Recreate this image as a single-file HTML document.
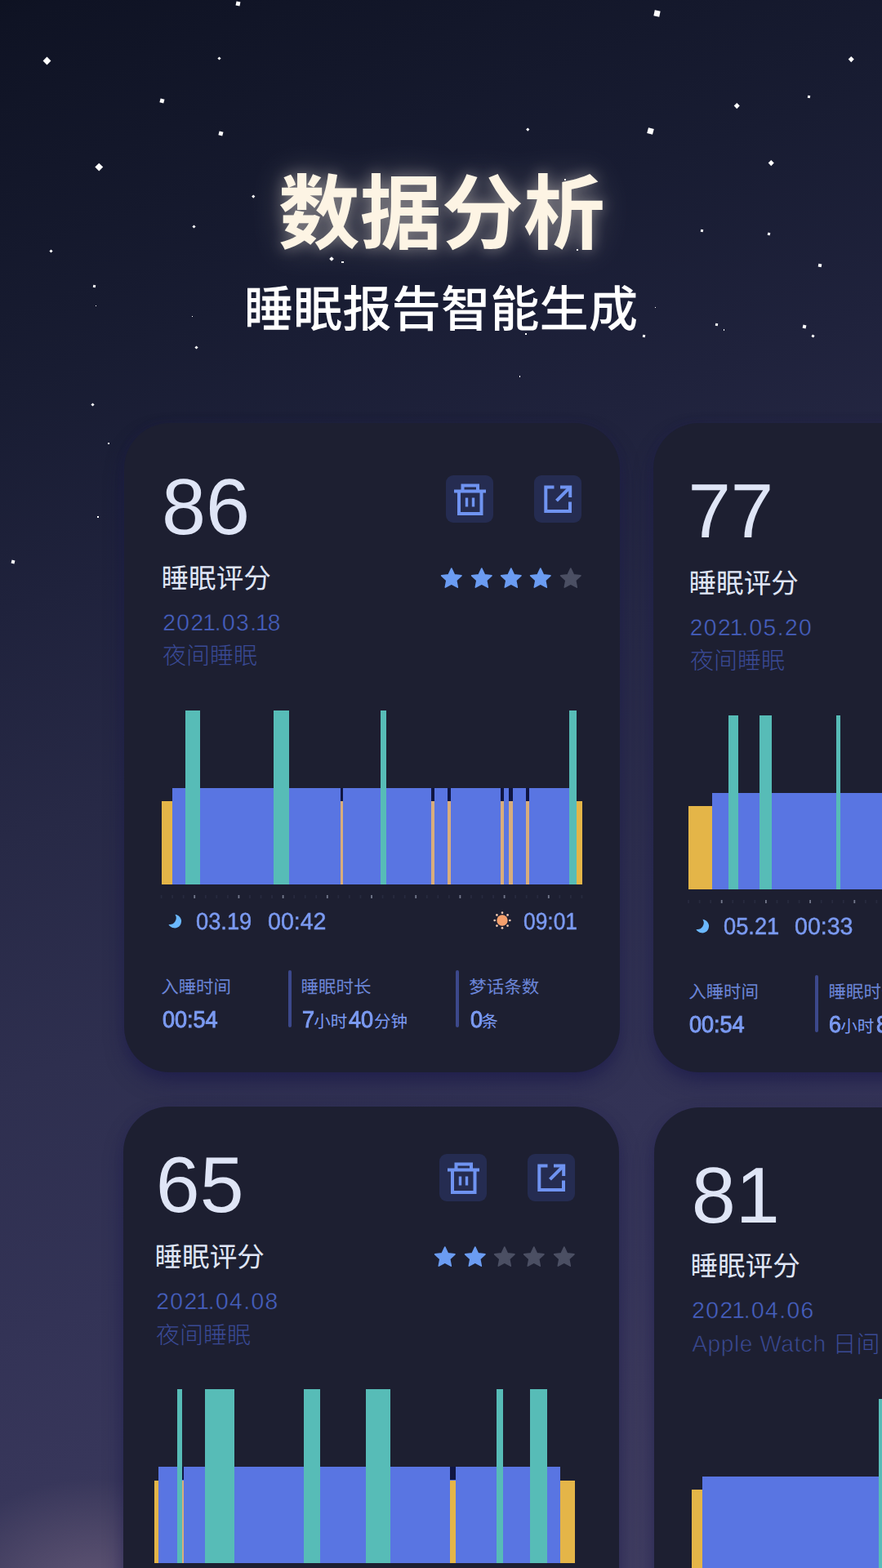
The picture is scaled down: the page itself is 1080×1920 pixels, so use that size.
<!DOCTYPE html>
<html lang="zh-CN"><head><meta charset="utf-8"><title>数据分析 - 睡眠报告智能生成</title><meta name="viewport" content="width=1080"><style>
html,body{margin:0;padding:0;background:#14172b}
body{width:1080px;height:1920px;overflow:hidden;font-family:"Liberation Sans",sans-serif}
#page{position:relative;width:1080px;height:1920px;overflow:hidden;
 background:linear-gradient(161deg,#0e1222 0px,#0f1324 26px,#13172a 215px,#181c32 451px,#1f223c 707px,#272946 971px,#2e2f4f 1255px,#333356 1548px,#37365a 1728px,#3b395c 1841px,#423f63 2167px)}
#glow{position:absolute;left:-75px;top:1810px;width:380px;height:300px;background:radial-gradient(closest-side,rgba(114,99,128,.72),rgba(114,99,128,0));}
.s{position:absolute;display:block;background:#fff}
.ab{position:absolute;display:block;overflow:visible}
.r{position:absolute}
.card{position:absolute;background:#1d1f31;border-radius:56px;box-shadow:0 13px 26px -4px rgba(24,22,72,.68),0 0 12px rgba(40,36,100,.14)}
.cj{position:absolute}
.cj svg{position:absolute;left:0;top:0;display:block;overflow:visible}
.cj text{font-family:"Liberation Sans","Noto Sans CJK SC",sans-serif;text-rendering:geometricPrecision}
.title svg{filter:drop-shadow(0 0 9px rgba(255,246,232,.4)) drop-shadow(0 0 20px rgba(255,246,232,.22))}
.tx{position:absolute;white-space:nowrap;line-height:1;transform-origin:0 50%;text-rendering:geometricPrecision}
.btn{position:absolute;width:58px;height:58px;border-radius:9px;background:#252c51}
.btn svg{display:block}
.n1{margin:0 -2.35px}
</style></head><body>
<div id="page">
<div id="glow"></div>
<i class="s" style="left:53.50px;top:71.00px;width:7px;height:7px;transform:rotate(45deg)"></i>
<i class="s" style="left:289.00px;top:1.50px;width:5px;height:5px;transform:rotate(12deg)"></i>
<i class="s" style="left:267.00px;top:69.50px;width:3px;height:3px;transform:rotate(45deg)"></i>
<i class="s" style="left:195.75px;top:120.75px;width:4.5px;height:4.5px;transform:rotate(15deg)"></i>
<i class="s" style="left:267.75px;top:160.75px;width:4.5px;height:4.5px;transform:rotate(15deg)"></i>
<i class="s" style="left:118.25px;top:200.75px;width:6.5px;height:6.5px;transform:rotate(45deg)"></i>
<i class="s" style="left:309.25px;top:238.75px;width:2.5px;height:2.5px;transform:rotate(45deg)"></i>
<i class="s" style="left:236.00px;top:276.00px;width:3px;height:3px;transform:rotate(45deg)"></i>
<i class="s" style="left:60.50px;top:305.50px;width:3px;height:3px;transform:rotate(45deg)"></i>
<i class="s" style="left:403.50px;top:314.50px;width:4px;height:4px;transform:rotate(45deg)"></i>
<i class="s" style="left:418.25px;top:319.75px;width:2.5px;height:2.5px;transform:rotate(0deg)"></i>
<i class="s" style="left:113.50px;top:349.00px;width:3px;height:3px;transform:rotate(10deg)"></i>
<i class="s" style="left:116.75px;top:373.75px;width:1.5px;height:1.5px;transform:rotate(0deg)"></i>
<i class="s" style="left:234.75px;top:386.75px;width:1.5px;height:1.5px;transform:rotate(0deg)"></i>
<i class="s" style="left:239.00px;top:424.00px;width:3px;height:3px;transform:rotate(45deg)"></i>
<i class="s" style="left:801.00px;top:12.50px;width:7px;height:7px;transform:rotate(12deg)"></i>
<i class="s" style="left:1040.25px;top:70.25px;width:4.5px;height:4.5px;transform:rotate(45deg)"></i>
<i class="s" style="left:899.75px;top:126.75px;width:4.5px;height:4.5px;transform:rotate(45deg)"></i>
<i class="s" style="left:988.50px;top:117.00px;width:3px;height:3px;transform:rotate(10deg)"></i>
<i class="s" style="left:644.75px;top:156.75px;width:2.5px;height:2.5px;transform:rotate(45deg)"></i>
<i class="s" style="left:792.50px;top:156.50px;width:7px;height:7px;transform:rotate(15deg)"></i>
<i class="s" style="left:941.75px;top:196.75px;width:4.5px;height:4.5px;transform:rotate(45deg)"></i>
<i class="s" style="left:858.00px;top:280.50px;width:3px;height:3px;transform:rotate(10deg)"></i>
<i class="s" style="left:940.00px;top:284.50px;width:3px;height:3px;transform:rotate(20deg)"></i>
<i class="s" style="left:1001.50px;top:322.50px;width:4px;height:4px;transform:rotate(10deg)"></i>
<i class="s" style="left:801.90px;top:375.90px;width:1.2px;height:1.2px;transform:rotate(0deg)"></i>
<i class="s" style="left:875.50px;top:396.00px;width:3px;height:3px;transform:rotate(10deg)"></i>
<i class="s" style="left:885.75px;top:403.25px;width:1.5px;height:1.5px;transform:rotate(0deg)"></i>
<i class="s" style="left:786.50px;top:410.00px;width:3px;height:3px;transform:rotate(10deg)"></i>
<i class="s" style="left:983.00px;top:398.00px;width:4px;height:4px;transform:rotate(15deg)"></i>
<i class="s" style="left:993.50px;top:409.50px;width:3px;height:3px;transform:rotate(30deg)"></i>
<i class="s" style="left:635.75px;top:460.25px;width:1.5px;height:1.5px;transform:rotate(0deg)"></i>
<i class="s" style="left:642.50px;top:408.00px;width:2px;height:2px;transform:rotate(0deg)"></i>
<i class="s" style="left:705.50px;top:305.00px;width:2px;height:2px;transform:rotate(0deg)"></i>
<i class="s" style="left:690.50px;top:219.00px;width:2px;height:2px;transform:rotate(0deg)"></i>
<i class="s" style="left:111.50px;top:493.50px;width:3px;height:3px;transform:rotate(45deg)"></i>
<i class="s" style="left:132.25px;top:542.25px;width:1.5px;height:1.5px;transform:rotate(0deg)"></i>
<i class="s" style="left:119.25px;top:632.25px;width:1.5px;height:1.5px;transform:rotate(0deg)"></i>
<i class="s" style="left:14.00px;top:686.00px;width:4px;height:4px;transform:rotate(15deg)"></i>
<div class="cj title" style="left:341.30px;top:210.20px;width:398.70px;height:98.40px;"><svg width="398.70" height="98.40" viewBox="0.20 -87.00 398.70 98.40"><text x="0" y="0" font-size="100" font-weight="700" fill="#fdf4e4">数据分析</text></svg></div>
<div class="cj " style="left:300.50px;top:347.00px;width:479.95px;height:60.80px;"><svg width="479.95" height="60.80" viewBox="2.28 -53.19 479.95 60.80"><text x="0" y="0" font-size="60.3" font-weight="500" fill="#ffffff">睡眠报告智能生成</text></svg></div>
<div class="card" style="left:152px;top:517.5px;width:607.2px;height:795.0px"></div>
<div class="card" style="left:800px;top:517.5px;width:607px;height:795.5px"></div>
<div class="card" style="left:150.6px;top:1355px;width:607.9px;height:795px"></div>
<div class="card" style="left:800.5px;top:1355.5px;width:606.5px;height:794.5px"></div>
<div class="cj" style="left:199.30px;top:581.30px;width:110.50px;height:74.60px"><svg width="110.50" height="74.60" viewBox="199.30 581.30 110.50 74.60"><text x="198.3" y="653.9" font-size="97.1" fill="#dfe5f6">86</text></svg></div>
<div class="btn" style="left:545.50px;top:582.40px"><svg width="58" height="58" viewBox="0 0 58 58"><g fill="none" stroke="#6f93f1" stroke-width="4"><path d="M10 19.5H49"/><path d="M20.5 19V12.5H39V19"/><path d="M16 21V47H43.5V21"/><path d="M25.5 27.5V38.5M33.5 27.5V38.5" stroke-width="3.4"/></g></svg></div>
<div class="btn" style="left:654.40px;top:582.40px"><svg width="58" height="58" viewBox="0 0 58 58"><g fill="none" stroke="#6f93f1" stroke-width="4"><path d="M24.5 14.5H14.3V44H44V32.5"/><path d="M32 14.5H44.2V27"/><path d="M43.5 15.2L27.5 31.2"/></g></svg></div>
<svg class="ab" style="left:539.80px;top:695.70px" width="25.6" height="25.6"><polygon fill="#6b9cf2" stroke="#6b9cf2" stroke-width="1.6" stroke-linejoin="round" points="12.80,0.00 16.44,7.78 24.97,8.84 18.70,14.72 20.32,23.16 12.80,19.00 5.28,23.16 6.90,14.72 0.63,8.84 9.16,7.78"/></svg>
<svg class="ab" style="left:576.50px;top:695.70px" width="25.6" height="25.6"><polygon fill="#6b9cf2" stroke="#6b9cf2" stroke-width="1.6" stroke-linejoin="round" points="12.80,0.00 16.44,7.78 24.97,8.84 18.70,14.72 20.32,23.16 12.80,19.00 5.28,23.16 6.90,14.72 0.63,8.84 9.16,7.78"/></svg>
<svg class="ab" style="left:613.10px;top:695.70px" width="25.6" height="25.6"><polygon fill="#6b9cf2" stroke="#6b9cf2" stroke-width="1.6" stroke-linejoin="round" points="12.80,0.00 16.44,7.78 24.97,8.84 18.70,14.72 20.32,23.16 12.80,19.00 5.28,23.16 6.90,14.72 0.63,8.84 9.16,7.78"/></svg>
<svg class="ab" style="left:649.40px;top:695.70px" width="25.6" height="25.6"><polygon fill="#6b9cf2" stroke="#6b9cf2" stroke-width="1.6" stroke-linejoin="round" points="12.80,0.00 16.44,7.78 24.97,8.84 18.70,14.72 20.32,23.16 12.80,19.00 5.28,23.16 6.90,14.72 0.63,8.84 9.16,7.78"/></svg>
<svg class="ab" style="left:686.10px;top:695.70px" width="25.6" height="25.6"><polygon fill="#4b4f63" stroke="#4b4f63" stroke-width="1.6" stroke-linejoin="round" points="12.80,0.00 16.44,7.78 24.97,8.84 18.70,14.72 20.32,23.16 12.80,19.00 5.28,23.16 6.90,14.72 0.63,8.84 9.16,7.78"/></svg>
<div class="cj " style="left:198.40px;top:689.50px;width:134.57px;height:34.61px;"><svg width="134.57" height="34.61" viewBox="0.52 -29.82 134.57 34.61"><text x="0" y="0" font-size="33.6" fill="#dfe5f6">睡眠评分</text></svg></div>
<div class="tx" style="left:199.30px;top:747.82px;font-size:28.2px;color:#4761c3;letter-spacing:1.38px;-webkit-text-stroke:0.45px #1d1f31;">202<span class="n1">1</span>.03.<span class="n1">1</span>8</div>
<div class="cj " style="left:198.30px;top:787.20px;width:118.00px;height:30.59px;"><svg width="118.00" height="30.59" viewBox="-1.10 -26.33 118.00 30.59"><text x="0" y="0" font-size="29" font-weight="300" fill="#3a4a96">夜间睡眠</text></svg></div>
<div class="r" style="left:197.60px;top:980.90px;width:13.00px;height:102.40px;background:#e4b548;"></div>
<div class="r" style="left:210.60px;top:964.90px;width:486.50px;height:118.40px;background:#5975e2;"></div>
<div class="r" style="left:416.50px;top:964.90px;width:3.30px;height:16.00px;background:#101642;"></div>
<div class="r" style="left:416.50px;top:980.90px;width:3.30px;height:102.40px;background:#d8ad7c;"></div>
<div class="r" style="left:527.80px;top:964.90px;width:4.40px;height:16.00px;background:#101642;"></div>
<div class="r" style="left:527.80px;top:980.90px;width:4.40px;height:102.40px;background:#d8ad7c;"></div>
<div class="r" style="left:548.00px;top:964.90px;width:3.60px;height:16.00px;background:#101642;"></div>
<div class="r" style="left:548.00px;top:980.90px;width:3.60px;height:102.40px;background:#d8ad7c;"></div>
<div class="r" style="left:612.80px;top:964.90px;width:4.40px;height:16.00px;background:#101642;"></div>
<div class="r" style="left:612.80px;top:980.90px;width:4.40px;height:102.40px;background:#d8ad7c;"></div>
<div class="r" style="left:622.90px;top:964.90px;width:4.70px;height:16.00px;background:#101642;"></div>
<div class="r" style="left:622.90px;top:980.90px;width:4.70px;height:102.40px;background:#d8ad7c;"></div>
<div class="r" style="left:644.40px;top:964.90px;width:3.20px;height:16.00px;background:#101642;"></div>
<div class="r" style="left:644.40px;top:980.90px;width:3.20px;height:102.40px;background:#d8ad7c;"></div>
<div class="r" style="left:705.90px;top:980.90px;width:7.30px;height:102.40px;background:#e4b548;"></div>
<div class="r" style="left:227.20px;top:870.00px;width:17.60px;height:213.30px;background:#57bcb7;"></div>
<div class="r" style="left:334.80px;top:870.00px;width:18.90px;height:213.30px;background:#57bcb7;"></div>
<div class="r" style="left:466.10px;top:870.00px;width:6.70px;height:213.30px;background:#57bcb7;"></div>
<div class="r" style="left:697.10px;top:870.00px;width:8.80px;height:213.30px;background:#57bcb7;"></div>
<svg class="ab" style="left:0;top:0" width="1080" height="1920"><rect x="196.65" y="1096.00" width="1.8" height="4" fill="#272a3e"/><rect x="210.20" y="1096.00" width="1.8" height="4" fill="#272a3e"/><rect x="223.75" y="1096.00" width="1.8" height="4" fill="#272a3e"/><rect x="237.30" y="1096.00" width="1.8" height="4" fill="#73788c"/><rect x="250.85" y="1096.00" width="1.8" height="4" fill="#272a3e"/><rect x="264.40" y="1096.00" width="1.8" height="4" fill="#272a3e"/><rect x="277.95" y="1096.00" width="1.8" height="4" fill="#272a3e"/><rect x="291.50" y="1096.00" width="1.8" height="4" fill="#73788c"/><rect x="305.05" y="1096.00" width="1.8" height="4" fill="#272a3e"/><rect x="318.60" y="1096.00" width="1.8" height="4" fill="#272a3e"/><rect x="332.15" y="1096.00" width="1.8" height="4" fill="#272a3e"/><rect x="345.70" y="1096.00" width="1.8" height="4" fill="#73788c"/><rect x="359.25" y="1096.00" width="1.8" height="4" fill="#272a3e"/><rect x="372.80" y="1096.00" width="1.8" height="4" fill="#272a3e"/><rect x="386.35" y="1096.00" width="1.8" height="4" fill="#272a3e"/><rect x="399.90" y="1096.00" width="1.8" height="4" fill="#73788c"/><rect x="413.45" y="1096.00" width="1.8" height="4" fill="#272a3e"/><rect x="427.00" y="1096.00" width="1.8" height="4" fill="#272a3e"/><rect x="440.55" y="1096.00" width="1.8" height="4" fill="#272a3e"/><rect x="454.10" y="1096.00" width="1.8" height="4" fill="#73788c"/><rect x="467.65" y="1096.00" width="1.8" height="4" fill="#272a3e"/><rect x="481.20" y="1096.00" width="1.8" height="4" fill="#272a3e"/><rect x="494.75" y="1096.00" width="1.8" height="4" fill="#272a3e"/><rect x="508.30" y="1096.00" width="1.8" height="4" fill="#73788c"/><rect x="521.85" y="1096.00" width="1.8" height="4" fill="#272a3e"/><rect x="535.40" y="1096.00" width="1.8" height="4" fill="#272a3e"/><rect x="548.95" y="1096.00" width="1.8" height="4" fill="#272a3e"/><rect x="562.50" y="1096.00" width="1.8" height="4" fill="#73788c"/><rect x="576.05" y="1096.00" width="1.8" height="4" fill="#272a3e"/><rect x="589.60" y="1096.00" width="1.8" height="4" fill="#272a3e"/><rect x="603.15" y="1096.00" width="1.8" height="4" fill="#272a3e"/><rect x="616.70" y="1096.00" width="1.8" height="4" fill="#73788c"/><rect x="630.25" y="1096.00" width="1.8" height="4" fill="#272a3e"/><rect x="643.80" y="1096.00" width="1.8" height="4" fill="#272a3e"/><rect x="657.35" y="1096.00" width="1.8" height="4" fill="#272a3e"/><rect x="670.90" y="1096.00" width="1.8" height="4" fill="#73788c"/><rect x="684.45" y="1096.00" width="1.8" height="4" fill="#272a3e"/><rect x="698.00" y="1096.00" width="1.8" height="4" fill="#272a3e"/><rect x="711.55" y="1096.00" width="1.8" height="4" fill="#272a3e"/></svg>
<svg class="ab" style="left:203.40px;top:1116.20px" width="24" height="24" viewBox="-12 -12 24 24"><path fill="#6bb8ff" d="M-0.6 -8.2A8.3 8.3 0 1 1 -8.6 3.9A7.9 7.9 0 0 0 -0.6 -8.2Z"/></svg>
<div class="tx" style="left:240.00px;top:1115.05px;font-size:29px;color:#7b9af1;transform:scaleX(0.94);-webkit-text-stroke:0.5px #7b9af1;">03.19</div>
<div class="tx" style="left:327.60px;top:1115.05px;font-size:29px;color:#7b9af1;transform:scaleX(0.985);-webkit-text-stroke:0.5px #7b9af1;">00:42</div>
<svg class="ab" style="left:603.20px;top:1115.20px" width="24" height="24" viewBox="-12 -12 24 24"><circle r="6.7" fill="#f6a06c"/><circle cx="9.30" cy="0.00" r="1.35" fill="#f1c9b2"/><circle cx="6.58" cy="6.58" r="1.35" fill="#f1c9b2"/><circle cx="0.00" cy="9.30" r="1.35" fill="#f1c9b2"/><circle cx="-6.58" cy="6.58" r="1.35" fill="#f1c9b2"/><circle cx="-9.30" cy="0.00" r="1.35" fill="#f1c9b2"/><circle cx="-6.58" cy="-6.58" r="1.35" fill="#f1c9b2"/><circle cx="-0.00" cy="-9.30" r="1.35" fill="#f1c9b2"/><circle cx="6.58" cy="-6.58" r="1.35" fill="#f1c9b2"/></svg>
<div class="tx" style="left:640.50px;top:1115.05px;font-size:29px;color:#7b9af1;transform:scaleX(0.91);-webkit-text-stroke:0.5px #7b9af1;">09:01</div>
<div class="cj " style="left:196.30px;top:1195.50px;width:87.25px;height:23.67px;"><svg width="87.25" height="23.67" viewBox="-1.12 -19.95 87.25 23.67"><text x="0" y="0" font-size="21.5" fill="#6b85d7">入睡时间</text></svg></div>
<div class="tx" style="left:198.70px;top:1234.98px;font-size:28.6px;color:#7b9af1;transform:scaleX(0.945);-webkit-text-stroke:1px #7b9af1;">00:54</div>
<div class="r" style="left:352.50px;top:1187.50px;width:4.20px;height:70.00px;background:#3c488b;border-radius:2px;"></div>
<div class="cj " style="left:368.00px;top:1195.50px;width:87.68px;height:23.74px;"><svg width="87.68" height="23.74" viewBox="-0.39 -19.95 87.68 23.74"><text x="0" y="0" font-size="21.5" fill="#6b85d7">睡眠时长</text></svg></div>
<div class="tx" style="left:369.50px;top:1234.98px;font-size:28.6px;color:#7b9af1;transform:scaleX(0.945);-webkit-text-stroke:1px #7b9af1;">7</div>
<div class="cj " style="left:382.60px;top:1238.80px;width:43.57px;height:22.76px;"><svg width="43.57" height="22.76" viewBox="-1.34 -19.12 43.57 22.76"><text x="0" y="0" font-size="20.5" fill="#7b9af1">小时</text></svg></div>
<div class="tx" style="left:427.00px;top:1234.98px;font-size:28.6px;color:#7b9af1;transform:scaleX(0.945);-webkit-text-stroke:1px #7b9af1;">40</div>
<div class="cj " style="left:456.50px;top:1238.80px;width:42.81px;height:22.88px;"><svg width="42.81" height="22.88" viewBox="-1.10 -19.18 42.81 22.88"><text x="0" y="0" font-size="20.5" fill="#7b9af1">分钟</text></svg></div>
<div class="r" style="left:558.00px;top:1187.50px;width:3.70px;height:70.00px;background:#3c488b;border-radius:2px;"></div>
<div class="cj " style="left:573.00px;top:1195.50px;width:88.62px;height:23.93px;"><svg width="88.62" height="23.93" viewBox="-1.23 -20.10 88.62 23.93"><text x="0" y="0" font-size="21.5" fill="#6b85d7">梦话条数</text></svg></div>
<div class="tx" style="left:575.50px;top:1234.98px;font-size:28.6px;color:#7b9af1;transform:scaleX(0.945);-webkit-text-stroke:1px #7b9af1;">0</div>
<div class="cj " style="left:588.00px;top:1238.80px;width:23.04px;height:22.82px;"><svg width="23.04" height="22.82" viewBox="-1.28 -19.26 23.04 22.82"><text x="0" y="0" font-size="20.5" fill="#7b9af1">条</text></svg></div>
<div class="cj" style="left:844.10px;top:587.80px;width:101.80px;height:72.50px"><svg width="101.80" height="72.50" viewBox="844.10 587.80 101.80 72.50"><text x="842.5" y="658.3" font-size="94.2" fill="#dfe5f6">77</text></svg></div>
<div class="cj " style="left:843.90px;top:695.50px;width:134.57px;height:34.61px;"><svg width="134.57" height="34.61" viewBox="0.52 -29.82 134.57 34.61"><text x="0" y="0" font-size="33.6" fill="#dfe5f6">睡眠评分</text></svg></div>
<div class="tx" style="left:844.80px;top:753.82px;font-size:28.2px;color:#4761c3;letter-spacing:1.38px;-webkit-text-stroke:0.45px #1d1f31;">202<span class="n1">1</span>.05.20</div>
<div class="cj " style="left:843.80px;top:793.20px;width:118.00px;height:30.59px;"><svg width="118.00" height="30.59" viewBox="-1.10 -26.33 118.00 30.59"><text x="0" y="0" font-size="29" font-weight="300" fill="#3a4a96">夜间睡眠</text></svg></div>
<div class="r" style="left:843.30px;top:987.20px;width:28.40px;height:102.00px;background:#e4b548;"></div>
<div class="r" style="left:871.70px;top:971.40px;width:218.30px;height:117.80px;background:#5975e2;"></div>
<div class="r" style="left:892.20px;top:876.10px;width:12.00px;height:213.10px;background:#57bcb7;"></div>
<div class="r" style="left:930.00px;top:876.10px;width:15.00px;height:213.10px;background:#57bcb7;"></div>
<div class="r" style="left:1023.60px;top:876.10px;width:5.00px;height:213.10px;background:#57bcb7;"></div>
<svg class="ab" style="left:0;top:0" width="1080" height="1920"><rect x="842.15" y="1102.00" width="1.8" height="4" fill="#272a3e"/><rect x="855.70" y="1102.00" width="1.8" height="4" fill="#272a3e"/><rect x="869.25" y="1102.00" width="1.8" height="4" fill="#272a3e"/><rect x="882.80" y="1102.00" width="1.8" height="4" fill="#73788c"/><rect x="896.35" y="1102.00" width="1.8" height="4" fill="#272a3e"/><rect x="909.90" y="1102.00" width="1.8" height="4" fill="#272a3e"/><rect x="923.45" y="1102.00" width="1.8" height="4" fill="#272a3e"/><rect x="937.00" y="1102.00" width="1.8" height="4" fill="#73788c"/><rect x="950.55" y="1102.00" width="1.8" height="4" fill="#272a3e"/><rect x="964.10" y="1102.00" width="1.8" height="4" fill="#272a3e"/><rect x="977.65" y="1102.00" width="1.8" height="4" fill="#272a3e"/><rect x="991.20" y="1102.00" width="1.8" height="4" fill="#73788c"/><rect x="1004.75" y="1102.00" width="1.8" height="4" fill="#272a3e"/><rect x="1018.30" y="1102.00" width="1.8" height="4" fill="#272a3e"/><rect x="1031.85" y="1102.00" width="1.8" height="4" fill="#272a3e"/><rect x="1045.40" y="1102.00" width="1.8" height="4" fill="#73788c"/><rect x="1058.95" y="1102.00" width="1.8" height="4" fill="#272a3e"/><rect x="1072.50" y="1102.00" width="1.8" height="4" fill="#272a3e"/></svg>
<svg class="ab" style="left:848.90px;top:1122.20px" width="24" height="24" viewBox="-12 -12 24 24"><path fill="#6bb8ff" d="M-0.6 -8.2A8.3 8.3 0 1 1 -8.6 3.9A7.9 7.9 0 0 0 -0.6 -8.2Z"/></svg>
<div class="tx" style="left:885.50px;top:1121.05px;font-size:29px;color:#7b9af1;transform:scaleX(0.94);-webkit-text-stroke:0.5px #7b9af1;">05.21</div>
<div class="tx" style="left:973.10px;top:1121.05px;font-size:29px;color:#7b9af1;transform:scaleX(0.985);-webkit-text-stroke:0.5px #7b9af1;">00:33</div>
<div class="cj " style="left:841.80px;top:1201.50px;width:87.25px;height:23.67px;"><svg width="87.25" height="23.67" viewBox="-1.12 -19.95 87.25 23.67"><text x="0" y="0" font-size="21.5" fill="#6b85d7">入睡时间</text></svg></div>
<div class="tx" style="left:844.20px;top:1240.98px;font-size:28.6px;color:#7b9af1;transform:scaleX(0.945);-webkit-text-stroke:1px #7b9af1;">00:54</div>
<div class="r" style="left:998.00px;top:1193.50px;width:4.20px;height:70.00px;background:#3c488b;border-radius:2px;"></div>
<div class="cj " style="left:1013.50px;top:1201.50px;width:87.68px;height:23.74px;"><svg width="87.68" height="23.74" viewBox="-0.39 -19.95 87.68 23.74"><text x="0" y="0" font-size="21.5" fill="#6b85d7">睡眠时长</text></svg></div>
<div class="tx" style="left:1015.00px;top:1240.98px;font-size:28.6px;color:#7b9af1;transform:scaleX(0.945);-webkit-text-stroke:1px #7b9af1;">6</div>
<div class="cj " style="left:1028.10px;top:1244.80px;width:43.57px;height:22.76px;"><svg width="43.57" height="22.76" viewBox="-1.34 -19.12 43.57 22.76"><text x="0" y="0" font-size="20.5" fill="#7b9af1">小时</text></svg></div>
<div class="tx" style="left:1072.50px;top:1240.98px;font-size:28.6px;color:#7b9af1;transform:scaleX(0.945);-webkit-text-stroke:1px #7b9af1;">8</div>
<div class="cj" style="left:192.20px;top:1412.20px;width:110.60px;height:74.40px"><svg width="110.60" height="74.40" viewBox="192.20 1412.20 110.60 74.40"><text x="191" y="1484.6" font-size="96.8" fill="#dfe5f6">65</text></svg></div>
<div class="btn" style="left:537.50px;top:1412.50px"><svg width="58" height="58" viewBox="0 0 58 58"><g fill="none" stroke="#6f93f1" stroke-width="4"><path d="M10 19.5H49"/><path d="M20.5 19V12.5H39V19"/><path d="M16 21V47H43.5V21"/><path d="M25.5 27.5V38.5M33.5 27.5V38.5" stroke-width="3.4"/></g></svg></div>
<div class="btn" style="left:646.40px;top:1412.50px"><svg width="58" height="58" viewBox="0 0 58 58"><g fill="none" stroke="#6f93f1" stroke-width="4"><path d="M24.5 14.5H14.3V44H44V32.5"/><path d="M32 14.5H44.2V27"/><path d="M43.5 15.2L27.5 31.2"/></g></svg></div>
<svg class="ab" style="left:531.80px;top:1527.10px" width="25.6" height="25.6"><polygon fill="#6b9cf2" stroke="#6b9cf2" stroke-width="1.6" stroke-linejoin="round" points="12.80,0.00 16.44,7.78 24.97,8.84 18.70,14.72 20.32,23.16 12.80,19.00 5.28,23.16 6.90,14.72 0.63,8.84 9.16,7.78"/></svg>
<svg class="ab" style="left:568.50px;top:1527.10px" width="25.6" height="25.6"><polygon fill="#6b9cf2" stroke="#6b9cf2" stroke-width="1.6" stroke-linejoin="round" points="12.80,0.00 16.44,7.78 24.97,8.84 18.70,14.72 20.32,23.16 12.80,19.00 5.28,23.16 6.90,14.72 0.63,8.84 9.16,7.78"/></svg>
<svg class="ab" style="left:605.10px;top:1527.10px" width="25.6" height="25.6"><polygon fill="#4b4f63" stroke="#4b4f63" stroke-width="1.6" stroke-linejoin="round" points="12.80,0.00 16.44,7.78 24.97,8.84 18.70,14.72 20.32,23.16 12.80,19.00 5.28,23.16 6.90,14.72 0.63,8.84 9.16,7.78"/></svg>
<svg class="ab" style="left:641.40px;top:1527.10px" width="25.6" height="25.6"><polygon fill="#4b4f63" stroke="#4b4f63" stroke-width="1.6" stroke-linejoin="round" points="12.80,0.00 16.44,7.78 24.97,8.84 18.70,14.72 20.32,23.16 12.80,19.00 5.28,23.16 6.90,14.72 0.63,8.84 9.16,7.78"/></svg>
<svg class="ab" style="left:678.10px;top:1527.10px" width="25.6" height="25.6"><polygon fill="#4b4f63" stroke="#4b4f63" stroke-width="1.6" stroke-linejoin="round" points="12.80,0.00 16.44,7.78 24.97,8.84 18.70,14.72 20.32,23.16 12.80,19.00 5.28,23.16 6.90,14.72 0.63,8.84 9.16,7.78"/></svg>
<div class="cj " style="left:190.40px;top:1520.90px;width:134.57px;height:34.61px;"><svg width="134.57" height="34.61" viewBox="0.52 -29.82 134.57 34.61"><text x="0" y="0" font-size="33.6" fill="#dfe5f6">睡眠评分</text></svg></div>
<div class="tx" style="left:191.30px;top:1579.22px;font-size:28.2px;color:#4761c3;letter-spacing:1.38px;-webkit-text-stroke:0.45px #1d1f31;">202<span class="n1">1</span>.04.08</div>
<div class="cj " style="left:190.30px;top:1618.60px;width:118.00px;height:30.59px;"><svg width="118.00" height="30.59" viewBox="-1.10 -26.33 118.00 30.59"><text x="0" y="0" font-size="29" font-weight="300" fill="#3a4a96">夜间睡眠</text></svg></div>
<div class="r" style="left:189.40px;top:1812.50px;width:5.00px;height:101.70px;background:#e4b548;"></div>
<div class="r" style="left:194.40px;top:1796.10px;width:491.70px;height:118.10px;background:#5975e2;"></div>
<div class="r" style="left:223.30px;top:1796.10px;width:1.90px;height:16.40px;background:#101642;"></div>
<div class="r" style="left:223.30px;top:1812.50px;width:1.90px;height:101.70px;background:#d8ad7c;"></div>
<div class="r" style="left:551.40px;top:1796.10px;width:6.90px;height:16.40px;background:#101642;"></div>
<div class="r" style="left:551.40px;top:1812.50px;width:6.90px;height:101.70px;background:#e4b548;"></div>
<div class="r" style="left:686.10px;top:1812.50px;width:18.30px;height:101.70px;background:#e4b548;"></div>
<div class="r" style="left:216.70px;top:1700.80px;width:6.60px;height:213.40px;background:#57bcb7;"></div>
<div class="r" style="left:251.40px;top:1700.80px;width:35.30px;height:213.40px;background:#57bcb7;"></div>
<div class="r" style="left:372.20px;top:1700.80px;width:20.00px;height:213.40px;background:#57bcb7;"></div>
<div class="r" style="left:448.10px;top:1700.80px;width:30.00px;height:213.40px;background:#57bcb7;"></div>
<div class="r" style="left:607.80px;top:1700.80px;width:7.80px;height:213.40px;background:#57bcb7;"></div>
<div class="r" style="left:648.60px;top:1700.80px;width:21.10px;height:213.40px;background:#57bcb7;"></div>
<div class="cj" style="left:848.30px;top:1423.80px;width:87.40px;height:74.70px"><svg width="87.40" height="74.70" viewBox="848.30 1423.80 87.40 74.70"><text x="847" y="1496.5" font-size="97.2" fill="#dfe5f6">81</text></svg></div>
<div class="cj " style="left:846.40px;top:1531.90px;width:134.57px;height:34.61px;"><svg width="134.57" height="34.61" viewBox="0.52 -29.82 134.57 34.61"><text x="0" y="0" font-size="33.6" fill="#dfe5f6">睡眠评分</text></svg></div>
<div class="tx" style="left:847.30px;top:1590.22px;font-size:28.2px;color:#4761c3;letter-spacing:1.38px;-webkit-text-stroke:0.45px #1d1f31;">202<span class="n1">1</span>.04.06</div>
<div class="tx" style="left:847.30px;top:1631.32px;font-size:28.2px;color:#3a4a96;letter-spacing:0.5px;-webkit-text-stroke:0.7px #1d1f31;">Apple Watch</div>
<div class="cj " style="left:1022.50px;top:1629.60px;width:53.53px;height:29.90px;"><svg width="53.53" height="29.90" viewBox="3.51 -25.72 53.53 29.90"><text x="0" y="0" font-size="29" font-weight="300" fill="#3a4a96">日间</text></svg></div>
<div class="r" style="left:847.10px;top:1824.30px;width:12.90px;height:105.70px;background:#e4b548;"></div>
<div class="r" style="left:860.00px;top:1808.30px;width:230.00px;height:121.70px;background:#5975e2;"></div>
<div class="r" style="left:1076.00px;top:1713.10px;width:14.00px;height:216.90px;background:#57bcb7;"></div>
</div>
</body></html>
